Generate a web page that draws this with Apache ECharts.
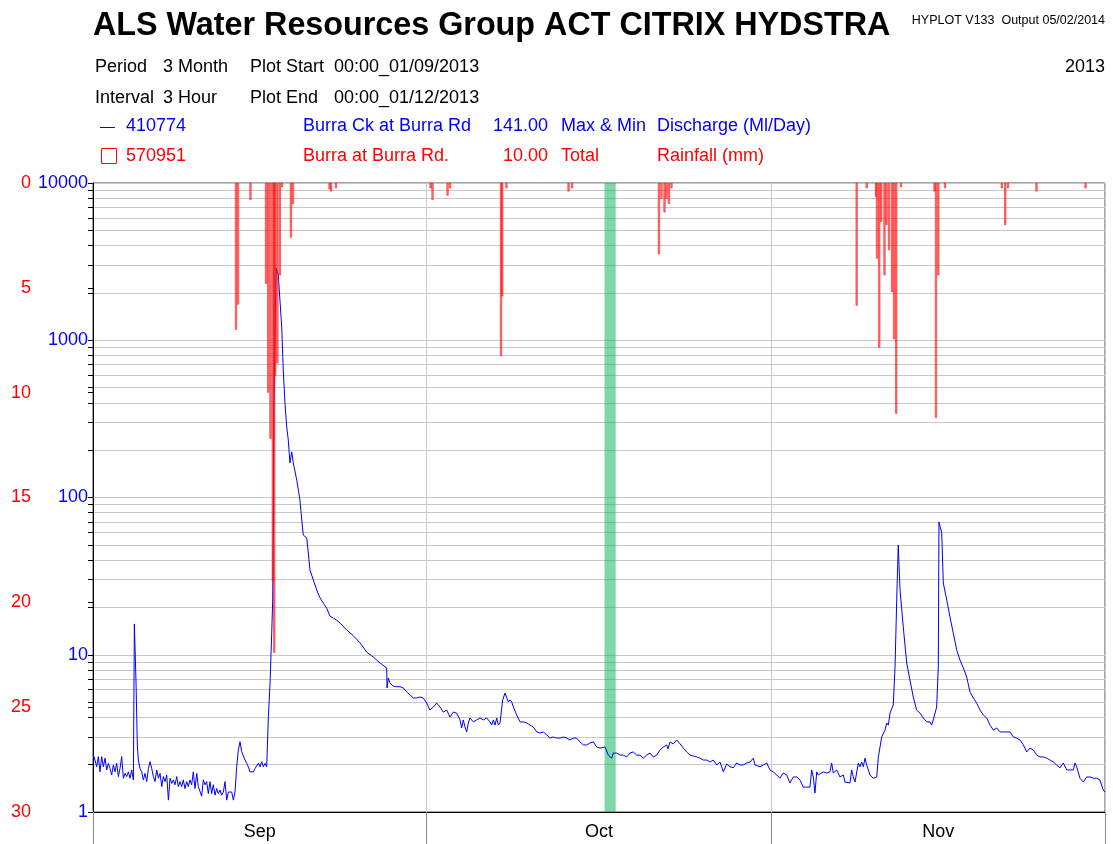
<!DOCTYPE html>
<html><head><meta charset="utf-8">
<script src="https://cdn.jsdelivr.net/npm/echarts@6/dist/echarts.min.js"></script>
<style>html,body{margin:0;padding:0;background:#fff}#c{width:1113px;height:844px}</style>
</head><body><div id="c"></div>
<script>
// ---- data ----
const monthLabels = ['Sep', 'Oct', 'Nov'];
const monthMid = [15, 45.5, 76];          // days since 1 Sep 2013 (label positions)
const monthStart = [0, 30, 61, 91];       // month boundaries, days since 1 Sep 2013
const flowTicks = [1,2,3,4,5,6,7,8,9,10,20,30,40,50,60,70,80,90,100,200,300,400,500,600,700,800,900,1000,2000,3000,4000,5000,6000,7000,8000,9000,10000];
const flowLabels = [1, 10, 100, 1000, 10000];
const rainTicks = [0, 5, 10, 15, 20, 25, 30];
const markDay = [46, 47];                 // highlighted day (16 Oct)

// Discharge (Ml/Day), 410774 Burra Ck at Burra Rd
const flowDay = [0.00,0.18,0.33,0.48,0.63,0.78,0.93,1.08,1.23,1.38,1.53,1.68,1.83,1.98,2.13,2.28,2.43,2.58,2.73,2.88,3.03,3.18,3.33,3.48,3.63,3.72,3.78,3.87,3.99,4.08,4.23,4.38,4.53,4.68,4.83,4.98,5.13,5.28,5.43,5.58,5.73,5.88,6.03,6.18,6.33,6.48,6.63,6.78,6.93,7.08,7.23,7.37,7.53,7.67,7.82,7.97,8.12,8.27,8.43,8.57,8.72,8.87,9.02,9.17,9.33,9.47,9.77,9.92,10.07,10.22,10.37,10.52,10.67,10.82,10.97,11.12,11.27,11.42,11.57,11.72,11.87,12.02,12.17,12.47,12.62,12.77,12.92,13.07,13.22,13.37,13.52,13.67,13.82,13.97,14.12,14.27,14.42,14.57,14.72,14.87,15.02,15.17,15.32,15.47,15.62,15.77,15.92,16.07,16.16,16.28,16.46,16.66,16.97,17.11,17.26,17.42,17.56,17.71,17.87,18.01,18.32,18.61,18.77,18.91,19.22,19.36,19.51,19.81,20.12,20.41,20.71,21.01,21.31,21.61,21.91,22.21,22.81,23.41,24.01,24.61,25.20,25.81,26.41,26.44,26.55,26.71,27.00,27.31,27.61,27.90,28.21,28.51,28.80,29.11,29.40,29.70,30.01,30.30,30.60,30.91,31.20,31.50,31.80,32.10,32.40,32.70,33.00,33.15,33.30,33.45,33.60,33.75,33.90,34.20,34.50,34.80,35.10,35.40,35.70,35.85,36.00,36.15,36.30,36.45,36.60,36.75,36.84,37.05,37.20,37.35,37.50,37.65,37.80,38.10,38.40,38.70,39.00,39.30,39.59,39.90,40.19,40.49,40.80,41.09,41.39,41.70,41.99,42.29,42.60,42.89,43.19,43.49,43.79,44.09,44.39,44.69,44.99,45.29,45.59,46.04,46.34,46.64,46.79,47.09,47.39,47.68,47.99,48.29,48.58,48.89,49.19,49.48,49.79,50.09,50.38,50.69,50.99,51.28,51.59,51.70,51.89,52.18,52.49,52.79,53.08,53.39,53.69,53.98,54.29,54.58,54.88,55.19,55.48,55.78,56.09,56.38,56.68,56.98,57.28,57.58,57.88,58.18,58.48,58.78,59.08,59.38,59.53,59.98,60.27,60.58,60.88,61.17,61.48,61.77,62.07,62.38,62.67,62.97,63.28,63.57,63.87,64.18,64.47,64.62,64.77,64.92,65.08,65.22,65.67,65.98,66.27,66.42,66.57,66.87,67.17,67.47,67.62,67.77,68.07,68.22,68.37,68.52,68.67,68.82,68.97,69.12,69.27,69.42,69.57,69.87,70.16,70.47,70.62,70.92,71.22,71.37,71.52,71.67,71.82,71.96,72.12,72.27,72.41,72.57,72.86,73.17,73.46,73.76,74.06,74.36,74.66,74.97,75.26,75.41,75.56,75.86,76.01,76.07,76.32,76.46,76.77,77.06,77.36,77.67,77.96,78.26,78.56,78.86,79.16,79.46,79.76,80.06,80.36,80.66,80.96,81.26,81.56,81.86,82.16,82.46,82.76,83.06,83.36,83.66,83.96,84.26,84.56,84.86,85.15,85.45,85.76,86.05,86.35,86.66,86.95,87.25,87.56,87.85,88.15,88.30,88.45,88.75,89.05,89.35,89.65,89.95,90.25,90.54,90.84,91.00];
const flowQ = [2.34,2.14,1.94,2.25,1.80,2.25,1.94,2.20,1.85,2.04,1.89,1.72,1.99,1.80,2.04,1.68,1.89,2.25,1.64,1.76,1.68,1.80,1.64,1.85,1.60,15.7,15.7,6.58,2.60,2.14,1.89,1.80,1.60,1.76,1.56,1.89,2.09,1.89,1.68,1.56,1.85,1.64,1.76,1.45,1.68,1.56,1.72,1.19,1.64,1.52,1.60,1.49,1.68,1.45,1.56,1.45,1.60,1.41,1.56,1.45,1.60,1.49,1.80,1.41,1.76,1.45,1.26,1.60,1.49,1.56,1.31,1.56,1.31,1.49,1.28,1.41,1.31,1.38,1.28,1.34,1.56,1.19,1.34,1.34,1.19,1.34,1.94,2.48,2.80,2.42,2.36,2.14,2.04,1.94,1.80,1.85,1.80,1.89,1.94,2.04,1.94,2.09,1.94,2.04,1.94,4.04,6.58,13.7,22.3,417,2880,2600,1214,647,399,281,232,166,195,166,129,96.4,71.9,57.7,55.3,44.4,34.6,29.9,25.8,23.0,21.3,19.8,17.6,17.1,16.6,15.9,14.4,13.2,11.9,10.4,9.68,8.86,8.24,6.15,7.11,6.61,6.31,6.26,6.26,6.15,5.80,5.55,5.31,5.31,5.39,5.31,4.93,4.45,4.65,4.93,4.65,4.32,4.45,4.02,4.32,4.26,3.85,3.42,3.85,3.47,3.23,3.68,3.96,3.74,3.85,3.96,3.85,3.96,3.74,3.57,3.85,3.57,3.96,3.57,3.68,3.74,5.16,5.71,5.71,5.01,5.16,5.01,4.65,4.14,3.74,3.74,3.68,3.57,3.47,3.23,3.18,3.23,3.09,2.95,3.00,2.95,2.95,3.00,2.95,2.87,2.95,2.95,2.79,2.67,2.67,2.75,2.79,2.59,2.55,2.59,2.30,2.20,2.37,2.37,2.30,2.30,2.24,2.37,2.41,2.30,2.30,2.20,2.30,2.37,2.24,2.30,2.48,2.59,2.67,2.52,2.79,2.71,2.87,2.71,2.55,2.41,2.30,2.27,2.24,2.20,2.14,2.14,2.08,2.14,1.99,2.08,1.80,2.02,1.94,1.91,2.05,1.99,1.99,2.05,2.08,2.20,1.99,1.94,1.99,2.05,1.85,1.80,1.72,1.64,1.77,1.72,1.53,1.67,1.67,1.60,1.44,1.44,1.44,1.85,1.67,1.32,1.80,1.72,1.80,1.77,1.80,2.05,1.77,1.85,1.67,1.72,1.55,1.53,1.53,1.85,1.67,1.55,1.53,2.05,1.94,2.08,1.94,2.20,1.99,1.72,1.64,1.67,2.24,3.00,3.32,3.68,3.57,4.26,4.14,4.79,8.36,22.3,49.9,25.8,15.0,8.86,6.91,5.39,4.45,4.26,3.96,3.74,3.74,3.57,3.85,4.65,8.36,69.9,59.5,28.6,22.3,17.4,13.7,10.7,9.26,8.24,7.22,5.80,5.31,4.93,4.45,4.14,3.96,3.57,3.32,3.42,3.23,3.23,3.23,3.23,3.00,2.95,2.87,2.67,2.41,2.55,2.48,2.30,2.24,2.24,2.20,2.14,2.08,1.99,1.91,2.05,1.85,1.85,1.85,2.05,1.94,1.64,1.55,1.67,1.67,1.64,1.64,1.60,1.38,1.34];

// Rainfall (mm), 570951 Burra at Burra Rd., 3-hour totals
const rainDay = [12.86,13.04,14.16,15.56,15.76,15.96,16.17,16.30,16.38,16.58,16.80,17.00,17.80,17.98,21.27,21.40,21.85,30.35,30.53,31.88,32.10,36.69,36.80,37.18,42.76,43.07,50.89,51.12,51.39,51.57,51.79,52.02,68.67,69.57,70.41,70.50,70.70,70.88,71.17,71.35,71.58,71.85,72.03,72.23,72.66,75.67,75.80,76.01,76.61,81.72,82.03,82.28,84.84,89.25];
const rainMm = [7.0,5.8,0.8,4.8,10.0,12.2,19.0,22.4,9.2,8.6,4.4,0.2,2.6,1.0,0.3,0.4,0.25,0.25,0.8,0.6,0.25,8.25,5.4,0.25,0.4,0.25,3.4,0.75,1.4,0.75,1.0,0.25,5.85,0.25,0.65,3.6,7.85,1.85,4.4,2.0,3.2,5.2,7.45,11.0,0.2,0.4,11.2,4.4,0.25,0.25,2.0,0.25,0.4,0.25];

// ---- chart ----
const FONT = '"Liberation Sans", Arial, sans-serif';
const chart = echarts.init(document.getElementById('c'), null, {renderer: 'canvas'});

function txt(x, y, text, color, size, opts) {
  opts = opts || {};
  return {type: 'text', x: x, y: y, z: 100,
    style: {text: text, fill: color, font: (opts.bold ? 'bold ' : '') + size + 'px ' + FONT,
      textAlign: opts.align || 'left', textVerticalAlign: 'middle'}};
}

const graphics = [
  txt(93, 26, 'ALS Water Resources Group ACT CITRIX HYDSTRA', '#000', 32.3, {bold: true}),
  txt(1105, 21, 'HYPLOT V133  Output 05/02/2014', '#000', 12.5, {align: 'right'}),
  txt(95, 67, 'Period', '#000', 18), txt(163, 67, '3 Month', '#000', 18),
  txt(250, 67, 'Plot Start', '#000', 18), txt(334, 67, '00:00_01/09/2013', '#000', 18),
  txt(1105, 67, '2013', '#000', 18, {align: 'right'}),
  txt(95, 98, 'Interval', '#000', 18), txt(163, 98, '3 Hour', '#000', 18),
  txt(250, 98, 'Plot End', '#000', 18), txt(334, 98, '00:00_01/12/2013', '#000', 18),
  {type: 'line', z: 100, shape: {x1: 100, y1: 127.5, x2: 115, y2: 127.5}, style: {stroke: '#0000ff', lineWidth: 1}},
  txt(126, 126, '410774', '#0000ff', 18), txt(303, 126, 'Burra Ck at Burra Rd', '#0000ff', 18),
  txt(548, 126, '141.00', '#0000ff', 18, {align: 'right'}), txt(561, 126, 'Max & Min', '#0000ff', 18),
  txt(657, 126, 'Discharge (Ml/Day)', '#0000ff', 18),
  {type: 'rect', z: 100, shape: {x: 101.5, y: 148.5, width: 15, height: 15}, style: {fill: 'none', stroke: '#ff0000', lineWidth: 1}},
  txt(126, 156, '570951', '#ff0000', 18), txt(303, 156, 'Burra at Burra Rd.', '#ff0000', 18),
  txt(548, 156, '10.00', '#ff0000', 18, {align: 'right'}), txt(561, 156, 'Total', '#ff0000', 18),
  txt(657, 156, 'Rainfall (mm)', '#ff0000', 18)
];

const option = {
  animation: false,
  backgroundColor: '#ffffff',
  grid: {left: 93, right: 8, top: 183, bottom: 32, show: true, borderColor: '#4a4a4a', borderWidth: 1,
    containLabel: false, outerBoundsMode: 'none'},
  graphic: graphics,
  xAxis: {
    type: 'value', min: 0, max: 91,
    axisLine: {onZero: false, lineStyle: {color: '#000', width: 1}},
    axisTick: {show: true, customValues: monthStart, length: 32, inside: false, lineStyle: {color: '#888'}},
    axisLabel: {customValues: monthMid, color: '#000', fontSize: 18, fontFamily: FONT, margin: 11,
      formatter: function (v) { const i = monthMid.indexOf(v); return i >= 0 ? monthLabels[i] : ''; }},
    splitLine: {show: true, lineStyle: {color: '#c8c8c8', width: 1}}
  },
  yAxis: [
    {type: 'log', logBase: 10, min: 1, max: 10000, position: 'left',
      axisLine: {show: true, lineStyle: {color: '#000'}},
      axisTick: {show: true, customValues: flowTicks, length: 5, lineStyle: {color: '#000'}},
      axisLabel: {customValues: flowLabels, color: '#0000ff', fontSize: 18, fontFamily: FONT, margin: 5,
        showMinLabel: true, showMaxLabel: true, hideOverlap: false,
        formatter: function (v) { return String(Math.round(v)); }},
      splitLine: {show: true, lineStyle: {color: '#c8c8c8', width: 1}}},
    {type: 'value', min: 0, max: 30, interval: 5, inverse: true, position: 'left',
      axisLine: {show: false},
      axisTick: {show: true, customValues: rainTicks, length: 5, lineStyle: {color: '#000'}},
      axisLabel: {customValues: rainTicks, color: '#ff0000', fontSize: 18, fontFamily: FONT, margin: 62,
        showMinLabel: true, showMaxLabel: true, hideOverlap: false},
      splitLine: {show: false}}
  ],
  series: [
    {type: 'bar', name: 'Rainfall', xAxisIndex: 0, yAxisIndex: 1, silent: true, z: 3,
      barWidth: 2,
      data: rainDay.map(function (d, i) { return [d, rainMm[i]]; }),
      itemStyle: {color: 'rgba(255,40,40,0.6)', borderColor: '#ff0000', borderWidth: 0.5}},
    {type: 'line', name: 'Discharge', xAxisIndex: 0, yAxisIndex: 0, silent: true, z: 2,
      symbol: 'none', showSymbol: false,
      data: flowDay.map(function (d, i) { return [d, flowQ[i]]; }),
      lineStyle: {color: '#0000ff', width: 1},
      markArea: {silent: true, itemStyle: {color: 'rgba(0,176,80,0.5)'},
        data: [[{xAxis: markDay[0]}, {xAxis: markDay[1]}]]}}
  ]
};
chart.setOption(option);
</script>
</body></html>
